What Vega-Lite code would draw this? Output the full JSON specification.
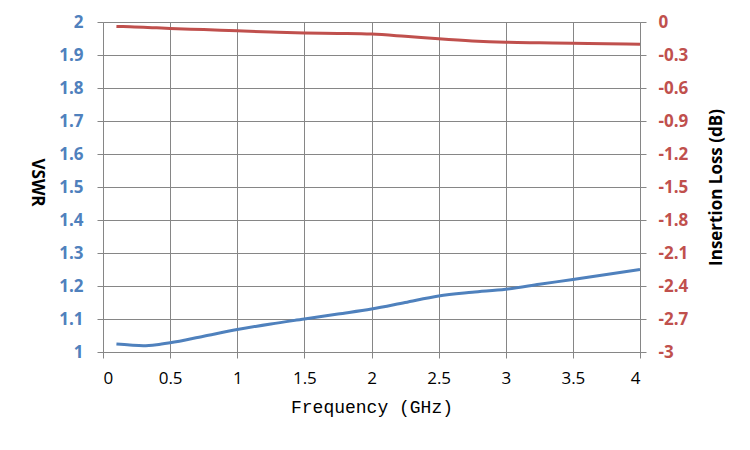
{
  "$schema": "https://vega.github.io/schema/vega-lite/v6.json",
  "autosize": "none",
  "width": 537,
  "height": 330,
  "padding": {"left": 103, "top": 22, "right": 110, "bottom": 98},
  "background": "white",
  "config": {
    "view": {"stroke": null},
    "axis": {
      "labelFont": "Open Sans",
      "titleFont": "Open Sans",
      "domainColor": "#868686",
      "tickColor": "#868686",
      "gridColor": "#868686",
      "gridOpacity": 1,
      "tickSize": 6
    }
  },
  "data": {
    "values": [
      {"f": 0.1, "vswr": 1.024, "loss": -0.04},
      {"f": 0.2, "vswr": 1.021, "loss": -0.044},
      {"f": 0.3, "vswr": 1.019, "loss": -0.048},
      {"f": 0.4, "vswr": 1.022, "loss": -0.053},
      {"f": 0.5, "vswr": 1.028, "loss": -0.058},
      {"f": 0.75, "vswr": 1.048, "loss": -0.069},
      {"f": 1.0, "vswr": 1.068, "loss": -0.08},
      {"f": 1.25, "vswr": 1.085, "loss": -0.091},
      {"f": 1.5, "vswr": 1.1, "loss": -0.1},
      {"f": 1.75, "vswr": 1.115, "loss": -0.104},
      {"f": 2.0, "vswr": 1.13, "loss": -0.11},
      {"f": 2.25, "vswr": 1.15, "loss": -0.13},
      {"f": 2.5, "vswr": 1.17, "loss": -0.153},
      {"f": 2.75, "vswr": 1.181, "loss": -0.172},
      {"f": 3.0, "vswr": 1.19, "loss": -0.184},
      {"f": 3.25, "vswr": 1.205, "loss": -0.189},
      {"f": 3.5, "vswr": 1.22, "loss": -0.193},
      {"f": 3.75, "vswr": 1.235, "loss": -0.197},
      {"f": 4.0, "vswr": 1.25, "loss": -0.202}
    ]
  },
  "encoding": {
    "x": {
      "field": "f",
      "type": "quantitative",
      "scale": {"domain": [0, 4], "nice": false, "zero": false},
      "axis": {
        "values": [0, 0.5, 1, 1.5, 2, 2.5, 3, 3.5, 4],
        "format": "~g",
        "title": "Frequency (GHz)",
        "titleFont": "Liberation Mono",
        "titleFontSize": 18,
        "titleFontWeight": "normal",
        "titleColor": "black",
        "titlePadding": 12,
        "labelFontSize": 17,
        "labelColor": "black",
        "labelPadding": 12,
        "grid": true
      }
    }
  },
  "layer": [
    {
      "mark": {"type": "line", "color": "#4F81BD", "strokeWidth": 3, "interpolate": "monotone"},
      "encoding": {
        "y": {
          "field": "vswr",
          "type": "quantitative",
          "scale": {"domain": [1, 2], "nice": false, "zero": false},
          "axis": {
            "orient": "left",
            "values": [1, 1.1, 1.2, 1.3, 1.4, 1.5, 1.6, 1.7, 1.8, 1.9, 2],
            "format": "~g",
            "title": "VSWR",
            "titleAngle": 90,
            "titleX": -67,
            "titleY": 160,
            "titleAlign": "center",
            "titleBaseline": "middle",
            "titleFontSize": 17,
            "titleFontWeight": "bold",
            "titleColor": "black",
            "labelFontSize": 17,
            "labelFontWeight": "bold",
            "labelColor": "#4F81BD",
            "labelPadding": 14,
            "grid": true
          }
        }
      }
    },
    {
      "mark": {"type": "line", "color": "#C0504D", "strokeWidth": 3, "interpolate": "monotone"},
      "encoding": {
        "y": {
          "field": "loss",
          "type": "quantitative",
          "scale": {"domain": [-3, 0], "nice": false, "zero": false},
          "axis": {
            "orient": "right",
            "values": [-3, -2.7, -2.4, -2.1, -1.8, -1.5, -1.2, -0.9, -0.6, -0.3, 0],
            "labelExpr": "replace(format(datum.value, '~g'), '\u2212', '-')",
            "title": "Insertion Loss (dB)",
            "titleAngle": 270,
            "titleX": 76,
            "titleY": 165,
            "titleAlign": "center",
            "titleBaseline": "middle",
            "titleFontSize": 17,
            "titleFontWeight": "bold",
            "titleColor": "black",
            "labelFontSize": 17,
            "labelFontWeight": "bold",
            "labelColor": "#C0504D",
            "labelPadding": 12,
            "grid": false
          }
        }
      }
    }
  ],
  "resolve": {"scale": {"y": "independent"}}
}
